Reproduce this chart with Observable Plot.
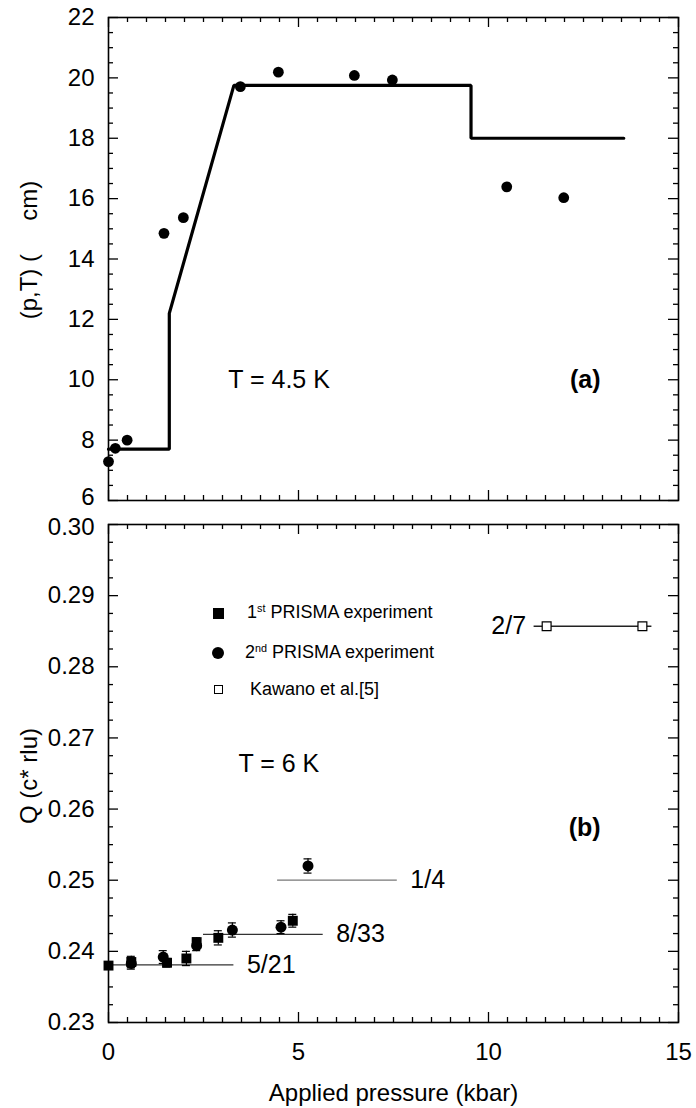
<!DOCTYPE html>
<html>
<head>
<meta charset="utf-8">
<script src="https://cdn.jsdelivr.net/npm/d3@7"></script>
<script src="https://cdn.jsdelivr.net/npm/@observablehq/plot@0.6"></script>
<style>
  html, body { margin: 0; padding: 0; background: #fff; }
  #wrap { position: relative; width: 696px; height: 1108px; font-family: "Liberation Sans", Arial, Helvetica, sans-serif; color: #000; overflow: hidden; }
  #top, #bot { position: absolute; left: 0; }
  #top { top: 0; }
  #bot { top: 510px; }
  .leg { position: absolute; font-size: 18px; line-height: 1; white-space: nowrap; }
  .leg sup { font-size: 0.6em; vertical-align: 0.6em; }
  .mk { position: absolute; box-sizing: border-box; }
  .ytitle { position: absolute; font-size: 24px; line-height: 1; white-space: pre; transform: translate(-50%, -50%) rotate(-90deg); }
</style>
</head>
<body>
<div id="wrap">
  <div id="top"></div>
  <div id="bot"></div>
  <div class="ytitle" style="left:29px;top:250px;">(p,T) (     cm)</div>
  <div class="ytitle" style="left:29px;top:776px;">Q (c* rlu)</div>
  <div class="mk" style="left:213px;top:608px;width:11px;height:11px;background:#000;"></div>
  <div class="leg" style="left:247px;top:603px;">1<sup>st</sup> PRISMA experiment</div>
  <div class="mk" style="left:212px;top:647px;width:12px;height:12px;border-radius:50%;background:#000;"></div>
  <div class="leg" style="left:245px;top:643px;">2<sup>nd</sup> PRISMA experiment</div>
  <div class="mk" style="left:214px;top:685px;width:9px;height:9px;border:1.3px solid #000;background:#fff;"></div>
  <div class="leg" style="left:250px;top:680px;">Kawano et al.[5]</div>
</div>
<script>
const FONT = '"Liberation Sans", Arial, Helvetica, sans-serif';

// ---- panel (a): resistivity vs pressure at T = 4.5 K
const rhoP = [0.0, 0.18, 0.49, 1.46, 1.97, 3.47, 4.47, 6.47, 7.47, 10.48, 11.98];
const rhoV = [7.29, 7.73, 8.0, 14.85, 15.37, 19.71, 20.19, 20.08, 19.93, 16.39, 16.03];
const fitP = [0, 1.6, 1.6, 3.3, 9.54, 9.54, 13.56];
const fitV = [7.7, 7.7, 12.2, 19.75, 19.75, 18.0, 18.0];
const yMajorA = [6, 8, 10, 12, 14, 16, 18, 20, 22];

// ---- panel (b): Q vs pressure at T = 6 K
const prisma1P = [0.0, 0.6, 1.54, 2.05, 2.32, 2.89, 4.85];
const prisma1Q = [0.2380, 0.2385, 0.2384, 0.2390, 0.2413, 0.2419, 0.2443];
const prisma1E = [0.0004, 0.0008, 0.0006, 0.0010, 0.0006, 0.0010, 0.0009];
const prisma2P = [0.6, 1.44, 2.32, 3.26, 4.54, 5.25];
const prisma2Q = [0.2383, 0.2392, 0.2408, 0.2430, 0.2434, 0.2520];
const prisma2E = [0.0008, 0.0009, 0.0007, 0.0010, 0.0009, 0.0010];
const kawanoP = [11.53, 14.05];
const kawanoQ = [0.2857, 0.2857];
const fracLabel = ["5/21", "8/33", "1/4", "2/7"];
const fracQ = [0.2381, 0.2424, 0.25, 0.2857];
const fracFrom = [0, 2.5, 4.45, 11.2];
const fracTo = [3.3, 5.65, 7.6, 14.3];
const fracStroke = ["#333", "#333", "#777", "#222"];
const yMajorB = [0.23, 0.24, 0.25, 0.26, 0.27, 0.28, 0.29, 0.30];

const xMajor = [0, 5, 10, 15];
const xMinor = d3.range(0.5, 15, 0.5).filter(v => v % 5 !== 0);

function frameTicks(fw, fh, yMaj, yMin) {
  const M = 10, m = 5, st = {stroke: "#000", strokeWidth: 1.3};
  return [
    Plot.ruleX(xMajor, {x: d => d, insetTop: fh - M, ...st}),
    Plot.ruleX(xMajor, {x: d => d, insetBottom: fh - M, ...st}),
    Plot.ruleX(xMinor, {x: d => d, insetTop: fh - m, ...st}),
    Plot.ruleX(xMinor, {x: d => d, insetBottom: fh - m, ...st}),
    Plot.ruleY(yMaj, {y: d => d, insetRight: fw - M, ...st}),
    Plot.ruleY(yMaj, {y: d => d, insetLeft: fw - M, ...st}),
    Plot.ruleY(yMin, {y: d => d, insetRight: fw - m, ...st}),
    Plot.ruleY(yMin, {y: d => d, insetLeft: fw - m, ...st}),
    Plot.frame({stroke: "#000", strokeWidth: 1.6})
  ];
}

const W = 696;
const mL = 108, mR = 18;
const fw = W - mL - mR;

// top plot
const hA = 510, mTA = 17, mBA = 10;
const fhA = hA - mTA - mBA;
const yMinorA = d3.range(6.5, 22, 0.5).filter(v => v % 2 !== 0);
const rhoData = rhoP.map((p, i) => ({p, v: rhoV[i]}));
const fitData = fitP.map((p, i) => ({p, v: fitV[i]}));

const topPlot = Plot.plot({
  width: W, height: hA,
  marginLeft: mL, marginRight: mR, marginTop: mTA, marginBottom: mBA,
  x: {domain: [0, 15], axis: null},
  y: {domain: [6, 22]},
  style: {fontFamily: FONT, fontSize: "24px", color: "#000", background: "transparent", overflow: "visible"},
  marks: [
    ...frameTicks(fw, fhA, yMajorA, yMinorA),
    Plot.axisY({anchor: "left", ticks: yMajorA.filter(d => d !== 6), tickSize: 0, tickPadding: 14, tickFormat: d => String(d), label: null}),
    Plot.axisY({anchor: "left", ticks: [6], tickSize: 0, tickPadding: 14, tickFormat: d => String(d), label: null, dy: -3}),
    Plot.line(fitData, {x: "p", y: "v", stroke: "#000", strokeWidth: 3.2, strokeLinejoin: "miter"}),
    Plot.dot(rhoData, {x: "p", y: "v", r: 5.4, fill: "#000", stroke: "none"}),
    Plot.text(["T = 4.5 K"], {x: () => 3.15, y: () => 10, text: d => d, textAnchor: "start", fontSize: 25}),
    Plot.text(["(a)"], {x: () => 12.95, y: () => 10, text: d => d, textAnchor: "end", fontSize: 25, fontWeight: "bold"})
  ]
});
document.getElementById("top").appendChild(topPlot);

// bottom plot
const hB = 598, mTB = 14, mBB = 86;
const fhB = hB - mTB - mBB;
const yMinorB = d3.range(0, 28).map(i => 0.23 + i * 0.0025).filter((v, i) => i % 4 !== 0);
const p1 = prisma1P.map((p, i) => ({p, q: prisma1Q[i], e: prisma1E[i]}));
const p2 = prisma2P.map((p, i) => ({p, q: prisma2Q[i], e: prisma2E[i]}));
const kw = kawanoP.map((p, i) => ({p, q: kawanoQ[i]}));
const fr = fracLabel.map((t, i) => ({t, q: fracQ[i], a: fracFrom[i], b: fracTo[i], s: fracStroke[i]}));

function errMarks(data) {
  return [
    Plot.ruleX(data, {x: "p", y1: d => d.q - d.e, y2: d => d.q + d.e, stroke: "#000", strokeWidth: 1.2}),
    Plot.ruleY(data, {y: d => d.q + d.e, x1: "p", x2: "p", insetLeft: -4, insetRight: -4, stroke: "#000", strokeWidth: 1.2}),
    Plot.ruleY(data, {y: d => d.q - d.e, x1: "p", x2: "p", insetLeft: -4, insetRight: -4, stroke: "#000", strokeWidth: 1.2})
  ];
}

const botPlot = Plot.plot({
  width: W, height: hB,
  marginLeft: mL, marginRight: mR, marginTop: mTB, marginBottom: mBB,
  x: {domain: [0, 15]},
  y: {domain: [0.23, 0.30]},
  style: {fontFamily: FONT, fontSize: "24px", color: "#000", background: "transparent", overflow: "visible"},
  marks: [
    ...frameTicks(fw, fhB, yMajorB, yMinorB),
    Plot.axisY({anchor: "left", ticks: yMajorB.filter(d => d !== 0.30), tickSize: 0, tickPadding: 14, tickFormat: d3.format(".2f"), label: null}),
    Plot.axisY({anchor: "left", ticks: [0.30], tickSize: 0, tickPadding: 14, tickFormat: d3.format(".2f"), label: null, dy: 3}),
    Plot.axisX({anchor: "bottom", ticks: xMajor, tickSize: 0, tickPadding: 20, tickFormat: d => String(d),
      label: "Applied pressure (kbar)", labelAnchor: "center", labelOffset: 78, labelArrow: "none"}),
    Plot.ruleY(fr, {y: "q", x1: "a", x2: "b", stroke: "s", strokeWidth: 1.3}),
    Plot.text(fr.filter(d => d.t !== "2/7"), {x: "b", y: "q", text: "t", textAnchor: "start", dx: 13, fontSize: 25}),
    Plot.text(fr.filter(d => d.t === "2/7"), {x: "a", y: "q", text: "t", textAnchor: "end", dx: -8, fontSize: 25}),
    ...errMarks(p1),
    ...errMarks(p2),
    Plot.dot(p1, {x: "p", y: "q", symbol: "square", r: 5.6, fill: "#000", stroke: "none"}),
    Plot.dot(p2, {x: "p", y: "q", symbol: "circle", r: 5.5, fill: "#000", stroke: "none"}),
    Plot.dot(kw, {x: "p", y: "q", symbol: "square", r: 5, fill: "#fff", stroke: "#000", strokeWidth: 1.2}),
    Plot.text(["T = 6 K"], {x: () => 3.42, y: () => 0.2663, text: d => d, textAnchor: "start", fontSize: 25}),
    Plot.text(["(b)"], {x: () => 12.95, y: () => 0.2573, text: d => d, textAnchor: "end", fontSize: 25, fontWeight: "bold"})
  ]
});
document.getElementById("bot").appendChild(botPlot);
</script>
</body>
</html>
